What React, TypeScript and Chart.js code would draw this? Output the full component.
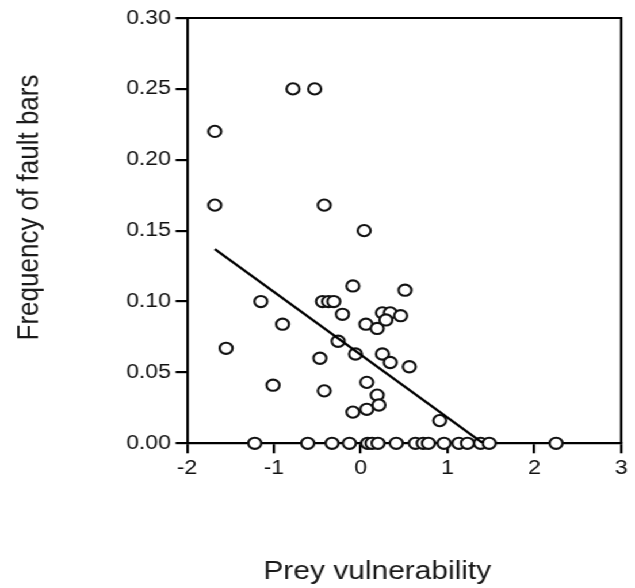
import React, { useEffect, useRef } from "react";
import { Chart, registerables } from "chart.js";

Chart.register(...registerables);

// Prey vulnerability (x) and frequency of fault bars (y)
const nonZeroX = [
  -0.78, -0.53, -1.68, -1.68, -0.42, 0.04, -1.15, -0.9, -1.55, -1.01,
  -0.09, -0.44, -0.37, -0.31, -0.21, 0.51, 0.06, 0.19, 0.25, 0.34,
  0.29, 0.46, -0.26, -0.06, 0.25, 0.34, 0.56, -0.47, -0.42, 0.07,
  -0.09, 0.07, 0.19, 0.21, 0.91,
];
const nonZeroY = [
  0.25, 0.25, 0.22, 0.168, 0.168, 0.15, 0.1, 0.084, 0.067, 0.041,
  0.111, 0.1, 0.1, 0.1, 0.091, 0.108, 0.084, 0.081, 0.092, 0.092,
  0.087, 0.09, 0.072, 0.063, 0.063, 0.057, 0.054, 0.06, 0.037, 0.043,
  0.022, 0.024, 0.034, 0.027, 0.016,
];
const zeroX = [
  -1.22, -0.61, -0.33, -0.13, 0.08, 0.13, 0.2, 0.41, 0.63, 0.72,
  0.78, 0.96, 1.13, 1.23, 1.38, 1.48, 2.25,
];
const zeroY = zeroX.map(() => 0);

// Regression line end points
const fitX = [-1.68, 1.41];
const fitY = [0.137, 0];

const xTicks = [-2, -1, 0, 1, 2, 3];
const yTicks = [0, 0.05, 0.1, 0.15, 0.2, 0.25, 0.3];
const xTitle = "Prey vulnerability";
const yTitle = "Frequency of fault bars";

const CW = 552;
const CH = 588;
const STRETCH = 635 / CW;
const INK = "#000";
const FONT = '"Liberation Sans", Arial, Helvetica, sans-serif';

export default function App() {
  const ref = useRef<HTMLCanvasElement | null>(null);

  useEffect(() => {
    const canvas = ref.current;
    if (!canvas) return;
    const allX = [...nonZeroX, ...zeroX];
    const allY = [...nonZeroY, ...zeroY];
    const pts = allX.map((x, i) => ({ x, y: allY[i] }));
    const line = fitX.map((x, i) => ({ x, y: fitY[i] }));

    const framePlugin = {
      id: "frame",
      beforeDatasetsDraw(chart: any) {
        const { ctx, chartArea: a } = chart;
        ctx.save();
        ctx.strokeStyle = INK;
        ctx.lineWidth = 2.2;
        ctx.beginPath();
        ctx.moveTo(a.left, a.top);
        ctx.lineTo(a.right, a.top);
        ctx.lineTo(a.right, a.bottom);
        ctx.stroke();
        ctx.restore();
      },
      afterDraw(chart: any) {
        const { ctx } = chart;
        ctx.save();
        ctx.fillStyle = "#1a1a1a";
        ctx.font = `26px ${FONT}`;
        ctx.textAlign = "center";
        ctx.textBaseline = "alphabetic";
        ctx.fillText(xTitle, 328, 579);
        ctx.translate(33, 207.5);
        ctx.rotate(-Math.PI / 2);
        ctx.fillText(yTitle, 0, 0);
        ctx.restore();
      },
    };

    const chart = new Chart(canvas, {
      type: "scatter",
      data: {
        datasets: [
          {
            type: "line",
            data: line,
            borderColor: INK,
            borderWidth: 2.4,
            pointRadius: 0,
            fill: false,
            showLine: true,
          } as any,
          {
            data: pts,
            pointStyle: "circle",
            pointRadius: 5.6,
            pointBorderWidth: 2.1,
            pointBorderColor: "#111",
            pointBackgroundColor: "#fff",
            clip: false,
          } as any,
        ],
      },
      options: {
        animation: false,
        responsive: false,
        devicePixelRatio: 1,
        layout: { autoPadding: false, padding: { left: 0, right: 12, top: 18, bottom: 0 } },
        plugins: { legend: { display: false }, tooltip: { enabled: false } },
        scales: {
          x: {
            type: "linear",
            min: -2,
            max: 3,
            afterFit(s: any) {
              s.height = CH - 443.3;
            },
            afterBuildTicks(s: any) {
              s.ticks = xTicks.map((v) => ({ value: v }));
            },
            ticks: {
              color: "#111",
              font: { size: 20, family: FONT },
              padding: 3,
              callback: (v: any) => String(v),
              maxRotation: 0,
            },
            grid: {
              display: true,
              drawOnChartArea: false,
              drawTicks: true,
              tickLength: 10,
              color: INK,
              lineWidth: 2.2,
            },
            border: { display: true, color: INK, width: 2.2 },
          },
          y: {
            type: "linear",
            min: 0,
            max: 0.3,
            afterFit(s: any) {
              s.width = 162.6;
            },
            afterBuildTicks(s: any) {
              s.ticks = yTicks.map((v) => ({ value: v }));
            },
            ticks: {
              color: "#111",
              font: { size: 20, family: FONT },
              padding: 4,
              callback: (v: any) => Number(v).toFixed(2),
            },
            grid: {
              display: true,
              drawOnChartArea: false,
              drawTicks: true,
              tickLength: 10,
              color: INK,
              lineWidth: 2.2,
            },
            border: { display: true, color: INK, width: 2.2 },
          },
        },
      } as any,
      plugins: [framePlugin],
    });
    return () => chart.destroy();
  }, []);

  return (
    <div
      style={{
        position: "fixed",
        left: 0,
        top: 0,
        width: CW,
        height: CH,
        background: "#fff",
        transform: `scaleX(${STRETCH})`,
        transformOrigin: "0 0",
      }}
    >
      <canvas ref={ref} width={CW} height={CH} style={{ display: "block" }} />
    </div>
  );
}
